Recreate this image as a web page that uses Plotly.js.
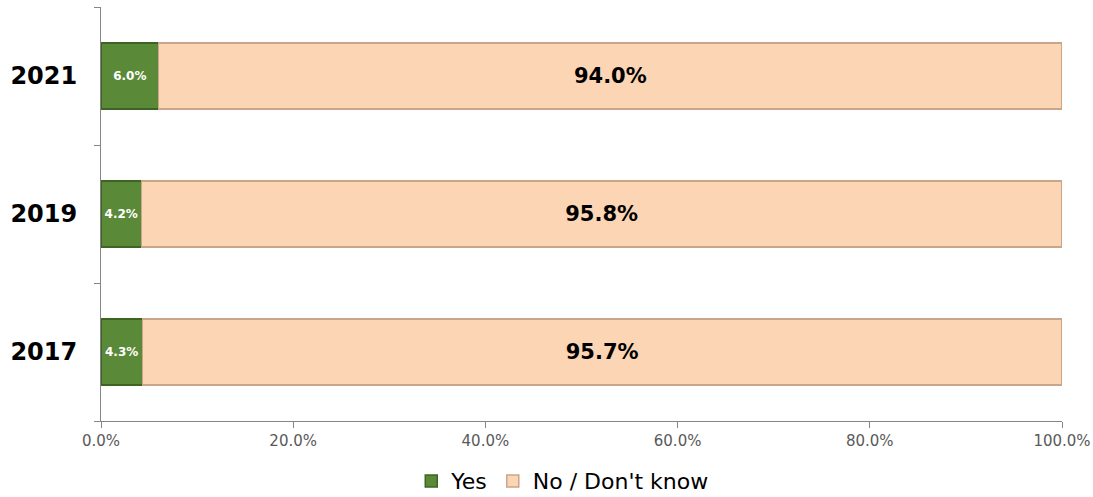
<!DOCTYPE html>
<html>
<head>
<meta charset="utf-8">
<script src="https://cdn.plot.ly/plotly-3.0.1.min.js"></script>
<style>html,body{margin:0;padding:0;background:#fff;}#chart{width:1093px;height:497px;}</style>
</head>
<body>
<div id="chart"></div>
<script>
const years = ['2017', '2019', '2021'];
const yesValues = [0.043, 0.042, 0.060];
const noValues = [0.957, 0.958, 0.940];
const seriesNames = ['Yes', 'No / Don\'t know'];
const xTicks = [0, 0.2, 0.4, 0.6, 0.8, 1.0];

const font = 'Tahoma, "DejaVu Sans", Verdana, sans-serif';

const traces = [
  {
    type: 'bar', orientation: 'h', name: seriesNames[0],
    y: years, x: yesValues,
    marker: {color: '#5A8A38', line: {color: '#3E6425', width: 1.5}},
    text: yesValues.map(v => (v * 100).toFixed(1) + '%'),
    textposition: 'inside', insidetextanchor: 'middle',
    textfont: {family: font, size: 12, color: '#FFFFFF', weight: 'bold'},
    hoverinfo: 'skip'
  },
  {
    type: 'bar', orientation: 'h', name: seriesNames[1],
    y: years, x: noValues,
    marker: {color: '#FCD5B4', line: {color: '#C9A68A', width: 1.5}},
    text: noValues.map(v => (v * 100).toFixed(1) + '%'),
    textposition: 'inside', insidetextanchor: 'middle',
    textfont: {family: font, size: 21, color: '#000000', weight: 'bold'},
    hoverinfo: 'skip'
  }
];

const layout = {
  width: 1093, height: 497,
  paper_bgcolor: '#FFFFFF', plot_bgcolor: '#FFFFFF',
  margin: {l: 101, r: 31, t: 7, b: 76},
  barmode: 'stack', bargap: 0.52,
  showlegend: true,
  legend: {orientation: 'h', x: 0.48, xanchor: 'center', xref: 'paper',
           y: 0.032, yref: 'container', yanchor: 'middle',
           font: {family: font, size: 22, color: '#000000'}, traceorder: 'normal'},
  xaxis: {
    range: [0, 1], tickvals: xTicks, tickformat: '.1%',
    showgrid: false, zeroline: false,
    showline: true, linecolor: '#868686', linewidth: 1,
    ticks: 'outside', ticklen: 6, tickcolor: '#868686',
    tickfont: {family: font, size: 15, color: '#595959'}
  },
  yaxis: {
    type: 'category', categoryorder: 'array', categoryarray: years,
    showgrid: false, zeroline: false,
    showline: true, linecolor: '#868686', linewidth: 1,
    ticks: 'outside', ticklen: 6, tickcolor: '#868686', tickson: 'boundaries',
    ticklabelstandoff: 18,
    tickfont: {family: font, size: 24, color: '#000000', weight: 'bold'}
  },
  hovermode: false
};

Plotly.newPlot('chart', traces, layout, {displayModeBar: false, staticPlot: true});
</script>
</body>
</html>
